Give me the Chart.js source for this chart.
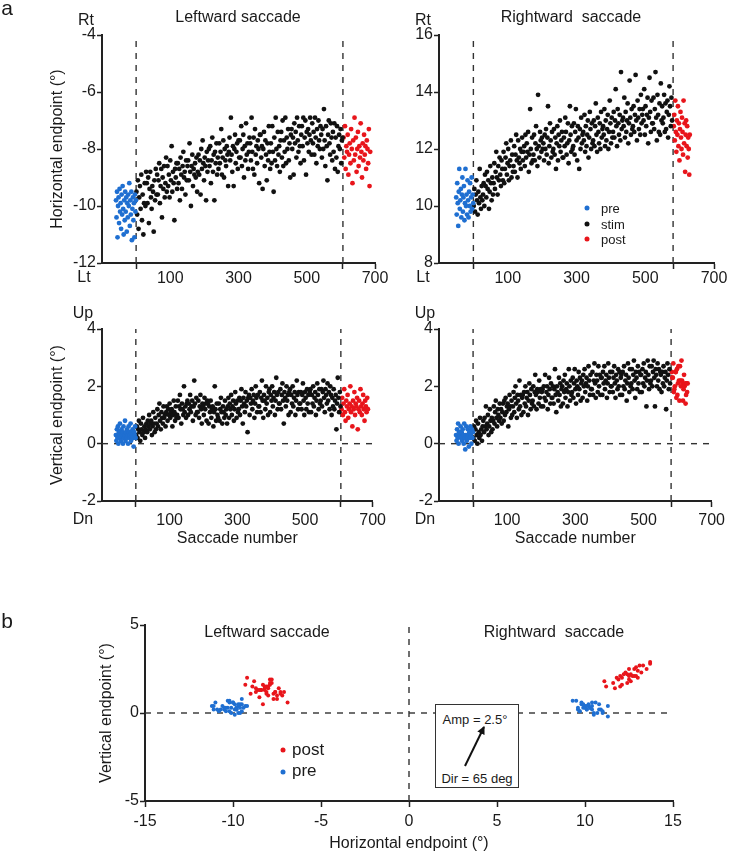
<!DOCTYPE html>
<html>
<head>
<meta charset="utf-8">
<script src="https://cdn.jsdelivr.net/npm/chart.js@4.4.0/dist/chart.umd.min.js"></script>
<style>
body { margin: 0; background: #fff; width: 729px; height: 853px; position: relative; overflow: hidden;
       font-family: "Liberation Sans", Arial, sans-serif; color: #1a1a1a; }
canvas { position: absolute; }
.t { position: absolute; transform: translate(-50%, -50%); white-space: pre; font-size: 16px; line-height: 1; }
.l { position: absolute; transform: translate(0, -50%); white-space: pre; line-height: 1; }
.dot { position: absolute; border-radius: 50%; transform: translate(-50%, -50%); }
#box { position: absolute; left: 435px; top: 704px; width: 84px; height: 84px; box-sizing: border-box;
       border: 1.5px solid #333; background: #fff; }
</style>
</head>
<body>
<canvas id="tl" width="390" height="290" style="left:0;top:0"></canvas>
<canvas id="tr" width="369" height="290" style="left:360px;top:0"></canvas>
<canvas id="bl" width="390" height="258" style="left:0;top:290px"></canvas>
<canvas id="br" width="369" height="258" style="left:360px;top:290px"></canvas>
<canvas id="pb" width="729" height="258" style="left:0;top:595px"></canvas>

<div class="t" style="left:7px;top:7px;font-size:21px">a</div>
<div class="t" style="left:7px;top:620px;font-size:21px">b</div>
<div class="t" style="left:238px;top:17px">Leftward saccade</div>
<div class="t" style="left:571px;top:17px">Rightward  saccade</div>
<div class="t" style="left:86px;top:20px">Rt</div>
<div class="t" style="left:84px;top:277px">Lt</div>
<div class="t" style="left:423px;top:20px">Rt</div>
<div class="t" style="left:423px;top:277px">Lt</div>
<div class="t" style="left:83px;top:313px">Up</div>
<div class="t" style="left:83px;top:519px">Dn</div>
<div class="t" style="left:425px;top:313px">Up</div>
<div class="t" style="left:425px;top:519px">Dn</div>
<div class="t" style="left:267px;top:632px">Leftward saccade</div>
<div class="t" style="left:554px;top:632px">Rightward  saccade</div>

<div class="dot" style="left:587px;top:208px;width:5px;height:5px;background:#1f6fd1"></div>
<div class="dot" style="left:587px;top:224px;width:5px;height:5px;background:#111"></div>
<div class="dot" style="left:587px;top:239px;width:5px;height:5px;background:#e8151b"></div>
<div class="l" style="left:601px;top:208px;font-size:13px">pre</div>
<div class="l" style="left:601px;top:224px;font-size:13px">stim</div>
<div class="l" style="left:601px;top:239px;font-size:13px">post</div>

<div class="dot" style="left:283px;top:750px;width:5px;height:5px;background:#e8151b"></div>
<div class="dot" style="left:283px;top:772px;width:5px;height:5px;background:#1f6fd1"></div>
<div class="l" style="left:292px;top:749px;font-size:17px">post</div>
<div class="l" style="left:292px;top:770px;font-size:17px">pre</div>

<div id="box"></div>
<div class="t" style="left:475px;top:719px;font-size:13px">Amp = 2.5°</div>
<div class="t" style="left:477px;top:778px;font-size:13px">Dir = 65 deg</div>
<svg style="position:absolute;left:0;top:0" width="729" height="853">
  <defs>
    <marker id="ah" markerUnits="userSpaceOnUse" markerWidth="8" markerHeight="8" refX="7" refY="4" orient="auto">
      <path d="M0,0 L8,4 L0,8 z" fill="#111"/>
    </marker>
  </defs>
  <line x1="465" y1="766" x2="484" y2="727" stroke="#111" stroke-width="2" marker-end="url(#ah)"/>
</svg>

<script>
// colours
const preColor = '#1f6fd1';
const stimColor = '#111111';
const postColor = '#e8151b';
const axisColor = '#222222';
const textColor = '#1a1a1a';
const font16 = { family: "'Liberation Sans', Arial, sans-serif", size: 16 };

// axes
const xLabelsA = [100, 300, 500, 700];
const yTicksHL = [-12, -10, -8, -6, -4];
const yTicksHR = [8, 10, 12, 14, 16];
const yTicksV = [-2, 0, 2, 4];
const xTicksB = [-15, -10, -5, 0, 5, 10, 15];
const yTicksB = [-5, 0, 5];
const stimEndLeft = 606;
const stimEndRight = 581;

// leftward saccades, horizontal endpoint (deg)
const leftPreH = [-9.8,-10.4,-9.5,-11.1,-10.0,-9.7,-10.6,-9.4,-10.2,-9.9,-10.8,-9.6,-10.3,-9.3,-10.1,-11.0,-9.8,-10.5,-9.5,-10.2,
  -9.7,-10.9,-9.9,-10.4,-9.6,-10.0,-9.2,-10.7,-9.8,-10.3,-9.5,-11.2,-10.1,-9.7,-10.5,-9.9,-11.1,-9.6,-10.2,-9.8];
const leftStimH = [
  -9.5,-10.3,-9.1,-10.8,-9.7,-9.3,-10.1,-8.9,-10.5,-9.6,-11.0,-9.9,-9.2,-10.0,-8.8,
  -9.2,-9.9,-9.0,-10.6,-9.4,-8.8,-9.7,-10.1,-9.3,-9.5,-10.9,-9.1,-9.8,-8.7,-9.6,
  -8.9,-9.6,-9.1,-8.5,-9.9,-9.3,-8.7,-10.4,-9.0,-9.4,-8.6,-9.7,-9.2,-8.3,-9.5,
  -8.6,-9.3,-8.9,-9.7,-8.4,-9.1,-7.9,-9.5,-8.8,-9.2,-10.5,-8.7,-9.0,-8.5,-9.4,
  -8.5,-9.2,-8.7,-9.8,-8.3,-8.9,-9.4,-8.6,-8.1,-9.0,-8.8,-9.6,-8.4,-9.1,-8.6,
  -8.4,-9.1,-7.8,-8.8,-10.0,-8.6,-8.2,-9.3,-8.7,-8.9,-8.5,-9.0,-8.3,-9.5,-8.8,
  -8.2,-8.9,-8.4,-9.6,-8.0,-8.7,-7.7,-8.5,-9.1,-8.3,-8.6,-9.8,-8.1,-8.8,-8.4,
  -8.0,-8.6,-7.9,-9.2,-8.4,-7.6,-8.8,-8.2,-9.8,-8.1,-8.5,-7.8,-8.9,-8.3,-8.7,
  -7.8,-8.5,-8.1,-7.3,-8.9,-8.3,-7.7,-9.0,-8.0,-8.4,-8.6,-7.9,-8.2,-9.3,-8.1,
  -7.6,-8.4,-6.9,-8.2,-8.8,-7.9,-9.3,-8.0,-7.5,-8.5,-8.1,-7.8,-8.7,-7.7,-8.3,
  -7.7,-8.3,-7.2,-8.6,-8.0,-7.5,-9.0,-7.9,-8.4,-7.1,-8.2,-7.8,-8.7,-8.1,-7.6,
  -7.8,-8.4,-6.9,-8.1,-8.7,-7.6,-8.9,-7.3,-8.2,-7.9,-8.5,-7.7,-8.0,-9.2,-7.5,
  -7.5,-8.3,-7.9,-9.4,-8.0,-7.4,-8.6,-7.7,-8.2,-9.1,-7.8,-8.4,-7.2,-8.1,-8.7,
  -7.8,-8.5,-7.2,-8.1,-9.5,-7.6,-8.4,-6.9,-8.0,-8.6,-7.4,-8.2,-7.9,-8.8,-7.7,
  -7.4,-8.3,-7.0,-8.6,-7.7,-8.1,-6.9,-8.5,-7.6,-8.0,-7.3,-8.4,-7.8,-9.0,-7.5,
  -7.3,-8.0,-7.6,-8.9,-7.1,-7.8,-7.4,-8.3,-6.9,-7.7,-8.1,-7.2,-7.9,-8.5,-7.5,
  -7.2,-7.9,-6.9,-8.4,-7.6,-7.0,-8.9,-7.4,-7.8,-7.3,-8.1,-7.5,-6.9,-7.7,-8.2,
  -7.1,-7.8,-7.4,-8.2,-6.9,-7.6,-8.5,-7.3,-7.9,-7.0,-7.7,-8.0,-7.2,-7.5,-8.3,
  -7.3,-8.0,-6.6,-7.7,-8.6,-7.2,-7.9,-9.1,-7.5,-7.0,-7.8,-8.2,-7.1,-7.6,-8.4,
  -7.4,-8.1,-7.1,-8.7,-7.6,-8.3,-7.2,-8.8,-7.9,-7.5,-8.0,-7.3,-8.5,-7.7,-7.6];
const leftPostH = [-7.6,-8.3,-7.2,-8.7,-7.9,-8.1,-7.5,-8.9,-8.2,-7.8,-8.5,-7.3,-8.0,-9.2,-7.7,-8.4,-6.9,-8.2,-7.6,-8.8,
  -8.0,-7.4,-8.6,-7.9,-8.3,-7.1,-8.1,-9.0,-7.8,-8.4,-7.5,-8.2,-7.9,-8.7,-7.7,-8.0,-8.5,-7.3,-9.3,-8.1];

// rightward saccades, horizontal endpoint (deg)
const rightPreH = [10.3,9.7,10.8,10.1,9.3,10.5,11.3,9.9,10.2,10.6,9.6,10.4,11.0,9.8,10.3,10.7,9.5,10.1,11.3,10.0,
  10.4,9.7,10.9,10.2,9.6,10.5,10.0,10.8,9.8,10.3,11.0,9.9,10.4,10.1];
const rightStimH = [
  10.0,10.6,9.8,10.4,10.9,10.2,9.7,10.5,10.1,11.3,10.3,9.9,10.7,10.2,10.4,
  10.8,10.0,11.1,10.7,10.3,11.2,10.6,10.9,9.9,10.5,11.4,10.8,10.2,11.0,10.4,
  10.8,11.5,10.6,11.2,11.9,11.0,10.4,11.4,10.9,11.7,11.1,10.7,11.6,11.3,10.9,
  11.9,10.8,11.3,11.7,12.2,11.1,11.5,12.0,10.9,11.4,11.6,12.3,11.0,11.8,11.2,
  11.4,12.1,11.2,11.8,12.5,11.6,11.0,12.3,11.7,11.5,12.0,11.3,11.9,12.4,11.6,
  11.9,12.1,11.4,12.5,11.7,12.2,11.9,12.6,11.2,11.8,13.4,12.0,11.5,12.4,11.6,
  11.8,12.5,11.6,12.2,12.8,12.0,11.4,13.9,12.1,11.7,12.6,12.3,11.9,12.4,12.0,
  12.2,11.6,12.5,12.0,12.7,11.8,12.4,13.5,11.5,12.1,12.9,12.3,11.7,12.6,11.9,
  12.0,12.7,11.8,12.4,11.3,12.2,12.8,11.6,12.5,12.1,13.0,11.9,12.3,12.6,11.7,
  11.7,12.4,12.1,13.1,12.6,11.8,12.2,12.9,11.5,12.3,13.5,12.5,11.9,12.8,12.0,
  12.1,12.9,11.8,12.6,13.4,12.3,11.6,12.8,12.4,11.3,12.7,12.0,13.1,12.2,12.5,
  12.6,12.3,13.2,11.9,12.8,12.1,12.5,13.0,11.7,12.4,13.3,12.7,12.0,12.9,12.2,
  12.3,13.0,12.1,12.8,13.6,12.5,11.9,13.1,12.6,12.2,12.9,12.0,13.3,12.4,12.7,
  12.8,12.5,13.4,12.1,13.0,12.3,12.7,13.2,12.0,12.6,13.7,12.9,12.2,13.1,12.4,
  12.6,13.3,12.4,13.0,14.1,12.8,12.1,13.4,12.9,12.5,13.2,12.3,14.7,12.7,13.0,
  13.1,12.8,13.8,12.4,13.3,12.6,13.0,13.6,12.2,12.9,14.4,13.1,12.5,13.4,12.7,
  12.8,13.5,12.6,13.2,14.6,13.0,12.3,13.7,13.1,12.7,13.4,12.5,13.9,12.9,13.2,
  13.4,13.0,14.1,12.5,13.5,12.8,13.2,13.8,12.2,13.1,14.5,13.3,12.6,13.7,12.9,
  12.9,13.8,12.7,13.4,14.7,13.1,12.3,13.9,13.2,12.6,13.6,12.5,14.3,13.0,13.5,
  12.9,13.1,13.9,12.6,13.6,12.7,13.3,13.7,12.4,13.2,14.2,13.5,12.8,13.8,13.0];
const rightPostH = [12.8,13.2,12.3,13.7,12.6,11.9,13.0,12.5,13.5,12.1,12.9,11.6,12.7,13.3,12.4,12.0,13.1,12.6,11.8,13.7,
  12.2,12.9,11.2,12.5,13.0,12.1,12.8,11.7,12.4,12.0,11.1,12.5];

// leftward saccades, vertical endpoint (deg)
const leftPreV = [0.3,0.1,0.5,0.2,0.6,0.0,0.4,0.3,0.7,0.2,0.1,0.5,0.3,0.4,0.0,0.6,0.2,0.3,0.8,0.1,
  0.4,0.2,0.5,0.3,0.0,0.6,0.4,0.2,0.3,0.7,0.1,0.4,0.3,0.5,0.2,-0.1,0.4,0.3,0.6,0.2];
const leftStimV = [
  0.3,0.6,0.2,0.5,0.8,0.4,0.1,0.7,0.5,0.3,0.9,0.4,0.6,0.2,0.5,
  0.7,0.4,0.8,0.6,1.0,0.5,0.7,0.8,0.3,0.6,1.1,0.7,0.4,0.9,0.5,
  0.7,1.2,0.6,1.0,1.4,0.8,0.5,1.1,0.9,0.7,1.3,0.9,1.0,0.6,1.1,
  1.3,0.8,1.2,1.0,1.4,0.9,1.1,1.2,0.6,1.0,1.5,1.1,0.8,1.3,0.9,
  1.0,1.5,0.9,1.3,1.7,1.2,0.7,1.4,1.2,1.0,2.0,1.1,1.3,0.9,1.4,
  1.5,1.0,1.4,1.2,1.7,1.1,1.3,1.5,0.8,1.3,2.2,1.4,1.0,1.6,1.1,
  1.1,1.5,0.9,1.3,1.7,1.2,0.7,1.4,1.3,1.0,1.6,1.2,1.4,0.8,1.5,
  1.4,0.7,1.3,1.1,1.5,0.9,1.2,1.3,0.6,1.1,2.0,1.2,0.8,1.4,1.0,
  0.9,1.4,0.8,1.2,1.6,1.1,0.7,1.3,1.1,0.9,1.5,1.0,1.2,0.7,1.3,
  1.6,0.9,1.4,1.2,1.7,1.0,1.3,1.5,0.8,1.2,1.8,1.4,0.9,1.5,1.1,
  1.2,1.6,1.0,1.5,1.9,1.3,0.7,1.6,1.4,1.1,1.8,1.3,1.5,0.4,1.6,
  1.7,1.0,1.6,1.4,1.9,1.2,1.5,1.7,0.9,1.4,2.0,1.6,1.1,1.7,1.3,
  1.3,1.8,1.1,1.6,2.2,1.5,0.9,1.7,1.5,1.2,2.0,1.4,1.6,1.0,1.8,
  1.9,1.1,1.7,1.5,2.0,1.3,1.6,1.8,1.0,1.5,2.3,1.7,1.2,1.8,1.4,
  1.4,1.9,1.2,1.7,2.1,1.5,0.7,1.8,1.6,1.3,2.0,1.5,1.7,1.0,1.8,
  1.9,1.1,1.7,1.4,2.0,1.3,1.6,1.8,1.0,1.5,2.2,1.7,1.2,1.8,1.4,
  1.4,1.8,1.2,1.7,2.1,1.5,1.0,1.8,1.6,1.2,1.9,1.4,1.7,1.1,1.8,
  1.9,1.1,1.7,1.4,2.0,1.3,1.6,1.8,1.0,1.5,2.1,1.7,1.2,1.9,1.4,
  1.5,1.9,1.3,1.8,2.2,1.6,1.1,1.9,1.7,1.4,2.1,1.5,1.8,1.2,2.0,
  1.7,1.0,1.6,1.3,1.9,1.2,1.5,1.7,0.5,1.4,2.3,1.6,1.1,1.8,1.3];
const leftPostV = [1.2,1.6,1.0,1.4,1.9,1.1,0.8,1.5,1.3,1.7,0.9,1.2,1.4,2.0,1.1,1.3,0.6,1.5,1.2,1.8,
  1.0,1.4,1.3,1.6,0.5,1.2,1.5,1.1,1.9,1.3,1.0,1.4,1.7,1.2,0.8,1.5,1.3,1.1,1.6,1.2];

// rightward saccades, vertical endpoint (deg)
const rightPreV = [0.3,0.1,0.5,0.2,0.7,0.0,0.4,0.3,0.4,0.6,0.2,0.4,0.1,0.5,0.3,0.0,0.7,0.2,-0.2,0.3,
  0.6,0.1,0.2,0.5,0.3,-0.1,0.4,0.2,0.6,0.3,0.0,0.5,0.2,0.4];
const rightStimV = [
  0.2,0.6,0.1,0.5,0.8,0.3,0.0,0.7,0.4,0.2,0.9,0.3,0.5,0.1,0.6,
  0.8,0.4,0.9,0.6,1.3,0.5,0.7,1.0,0.3,0.6,1.2,0.8,0.4,0.9,0.5,
  0.8,1.3,0.7,1.1,1.5,0.9,0.6,1.2,1.0,0.8,1.4,0.9,1.2,0.7,1.1,
  1.4,0.8,1.5,1.0,1.6,1.1,1.3,1.4,0.6,1.2,1.7,1.3,0.9,1.5,1.0,
  1.3,1.8,1.1,1.6,2.0,1.4,0.9,1.7,1.5,1.2,2.2,1.3,1.7,1.0,1.6,
  1.7,1.1,1.8,1.4,2.0,1.3,1.6,1.8,1.0,1.5,2.1,1.7,1.2,1.9,1.4,
  1.5,2.0,1.3,1.8,2.4,1.7,1.2,1.9,1.8,1.4,2.2,1.6,1.9,1.3,1.8,
  1.9,1.3,2.0,1.6,2.4,1.5,1.8,2.0,1.2,1.7,2.3,1.9,1.4,2.1,1.6,
  1.6,2.0,1.4,1.9,2.6,1.7,1.1,2.0,1.8,1.5,2.3,1.7,2.1,1.3,1.9,
  2.0,1.4,2.2,1.8,2.4,1.6,1.9,2.1,1.3,1.8,2.6,2.0,1.5,2.2,1.7,
  1.8,2.3,1.6,2.1,2.6,1.9,1.4,2.2,2.0,1.7,2.5,1.9,2.3,1.5,2.1,
  2.2,1.6,2.4,2.0,2.6,1.8,2.1,2.3,1.5,2.0,2.7,2.2,1.7,2.4,1.9,
  1.9,2.5,1.7,2.2,2.8,2.1,1.6,2.4,2.2,1.8,2.7,2.0,2.4,1.7,2.3,
  2.3,1.7,2.5,2.1,2.7,1.9,2.2,2.4,1.6,2.1,2.8,2.3,1.8,2.5,2.0,
  2.0,2.5,1.8,2.3,2.7,2.1,1.6,2.4,2.2,1.9,2.6,2.0,2.5,1.7,2.3,
  2.4,1.7,2.5,2.0,2.7,1.9,2.2,2.4,1.5,2.1,2.8,2.3,1.8,2.6,2.0,
  2.1,2.6,1.9,2.4,2.9,2.2,1.6,2.5,2.3,1.9,2.7,2.1,2.5,1.8,2.4,
  2.4,1.8,2.6,2.1,2.8,2.0,2.3,2.5,1.3,2.2,2.9,2.4,1.9,2.7,2.1,
  2.2,2.7,2.0,2.5,2.9,2.3,1.3,2.6,2.4,2.0,2.8,2.2,2.6,1.9,2.5,
  2.4,1.8,2.5,2.1,2.7,2.0,2.3,2.5,1.2,2.2,2.8,2.4,1.9,2.6,2.1];
const rightPostV = [2.5,2.3,2.3,2.8,1.8,1.9,2.0,2.5,2.5,1.6,2.6,1.7,2.1,2.7,2.2,1.5,2.7,2.2,2.0,2.9,
  2.2,2.1,1.5,1.9,2.4,2.0,2.1,1.4,1.7,2.1,1.8,2.1];

// saccade numbers run consecutively inside each block
function seq(ys, x0, step) {
    return ys.map(function(y, i) { return { x: x0 + i * step, y: y }; });
}
function pairs(xs, ys) {
    return xs.map(function(x, i) { return { x: x, y: ys[i] }; });
}
function dots(data, color, r) {
    return { type: 'scatter', data: data, backgroundColor: color, borderWidth: 0, pointRadius: r || 2.4, pointHoverRadius: r || 2.4 };
}
function dash(data) {
    return { type: 'scatter', data: data, showLine: true, borderColor: '#333', borderWidth: 1.4,
             borderDash: [6, 6], pointRadius: 0, pointHoverRadius: 0, fill: false };
}

function panelA(id, o) {
    var ds = [
        dots(o.pre, preColor), dots(o.stim, stimColor), dots(o.post, postColor),
        dash([{ x: 0, y: o.yMin }, { x: 0, y: o.yMax }]),
        dash([{ x: o.stimEnd, y: o.yMin }, { x: o.stimEnd, y: o.yMax }])
    ];
    if (o.zeroLine) ds.push(dash([{ x: -100, y: 0 }, { x: 700, y: 0 }]));
    var marks = [0, o.stimEnd, 700];
    new Chart(document.getElementById(id), {
        type: 'scatter',
        data: { datasets: ds },
        options: {
            responsive: false,
            animation: false,
            layout: { padding: { left: o.padLeft, right: 15, top: o.padTop, bottom: 0 } },
            plugins: { legend: { display: false }, tooltip: { enabled: false } },
            scales: {
                x: {
                    type: 'linear', min: -100, max: 700,
                    afterBuildTicks: function(s) { s.ticks = [0, 100, 300, 500, o.stimEnd, 700].map(function(v) { return { value: v }; }); },
                    afterFit: function(s) { s.height = o.xHeight; },
                    ticks: { autoSkip: false, maxRotation: 0, padding: o.tickPad, color: textColor, font: font16,
                             callback: function(v) { return xLabelsA.indexOf(v) >= 0 ? String(v) : ''; } },
                    grid: { drawOnChartArea: false, tickLength: 6, tickWidth: 1.5,
                            color: function(c) { return c.tick && marks.indexOf(c.tick.value) >= 0 ? axisColor : 'rgba(0,0,0,0)'; } },
                    border: { color: axisColor, width: 2 },
                    title: { display: !!o.xTitle, text: o.xTitle || '', color: textColor, font: font16, padding: 0 }
                },
                y: {
                    type: 'linear', min: o.yMin, max: o.yMax,
                    afterBuildTicks: function(s) { s.ticks = o.yTicks.map(function(v) { return { value: v }; }); },
                    afterFit: function(s) { s.width = o.yWidth; },
                    ticks: { autoSkip: false, padding: 1, color: textColor, font: font16 },
                    grid: { drawOnChartArea: false, tickLength: 5, tickWidth: 1.5, color: axisColor },
                    border: { color: axisColor, width: 2 },
                    title: { display: !!o.yTitle, text: o.yTitle || '', color: textColor, font: font16, padding: { top: 4, bottom: 4 } }
                }
            }
        }
    });
}

panelA('tl', { pre: seq(leftPreH, -59, 1.5), stim: seq(leftStimH, 1, 2.02), post: seq(leftPostH, 608, 2),
    stimEnd: stimEndLeft, yMin: -12, yMax: -4, yTicks: yTicksHL, yTitle: 'Horizontal endpoint (°)',
    padLeft: 44, yWidth: 58, padTop: 35, xHeight: 27, tickPad: 0 });
panelA('tr', { pre: seq(rightPreH, -50, 1.5), stim: seq(rightStimH, 1, 1.93), post: seq(rightPostH, 583, 1.5),
    stimEnd: stimEndRight, yMin: 8, yMax: 16, yTicks: yTicksHR,
    padLeft: 0, yWidth: 79, padTop: 35, xHeight: 27, tickPad: 0 });
panelA('bl', { pre: seq(leftPreV, -59, 1.5), stim: seq(leftStimV, 1, 2.02), post: seq(leftPostV, 608, 2),
    stimEnd: stimEndLeft, yMin: -2, yMax: 4, yTicks: yTicksV, yTitle: 'Vertical endpoint (°)', zeroLine: true,
    xTitle: 'Saccade number', padLeft: 44, yWidth: 58, padTop: 39, xHeight: 47, tickPad: 4 });
panelA('br', { pre: seq(rightPreV, -50, 1.5), stim: seq(rightStimV, 1, 1.93), post: seq(rightPostV, 583, 1.5),
    stimEnd: stimEndRight, yMin: -2, yMax: 4, yTicks: yTicksV, zeroLine: true,
    xTitle: 'Saccade number', padLeft: 0, yWidth: 79, padTop: 39, xHeight: 47, tickPad: 4 });

// panel b: vertical vs horizontal endpoint of the pre and post saccades
new Chart(document.getElementById('pb'), {
    type: 'scatter',
    data: {
        datasets: [
            dots(pairs(leftPreH, leftPreV), preColor, 2),
            dots(pairs(rightPreH, rightPreV), preColor, 2),
            dots(pairs(leftPostH, leftPostV), postColor, 2),
            dots(pairs(rightPostH, rightPostV), postColor, 2),
            dash([{ x: -15, y: 0 }, { x: 15, y: 0 }]),
            dash([{ x: 0, y: -5 }, { x: 0, y: 5 }])
        ]
    },
    options: {
        responsive: false,
        animation: false,
        layout: { padding: { left: 93, right: 56, top: 30, bottom: 0 } },
        plugins: { legend: { display: false }, tooltip: { enabled: false } },
        scales: {
            x: {
                type: 'linear', min: -15, max: 15,
                afterBuildTicks: function(s) { s.ticks = xTicksB.map(function(v) { return { value: v }; }); },
                afterFit: function(s) { s.height = 52; },
                ticks: { autoSkip: false, maxRotation: 0, padding: 5, color: textColor, font: font16 },
                grid: { drawOnChartArea: false, tickLength: 6, tickWidth: 1.5, color: axisColor },
                border: { color: axisColor, width: 2 },
                title: { display: true, text: 'Horizontal endpoint (°)', color: textColor, font: font16, padding: 0 }
            },
            y: {
                type: 'linear', min: -5, max: 5,
                afterBuildTicks: function(s) { s.ticks = yTicksB.map(function(v) { return { value: v }; }); },
                afterFit: function(s) { s.width = 52; },
                ticks: { autoSkip: false, padding: 1, color: textColor, font: font16 },
                grid: { drawOnChartArea: false, tickLength: 5, tickWidth: 1.5, color: axisColor },
                border: { color: axisColor, width: 2 },
                title: { display: true, text: 'Vertical endpoint (°)', color: textColor, font: font16, padding: { top: 4, bottom: 4 } }
            }
        }
    }
});
</script>
</body>
</html>
